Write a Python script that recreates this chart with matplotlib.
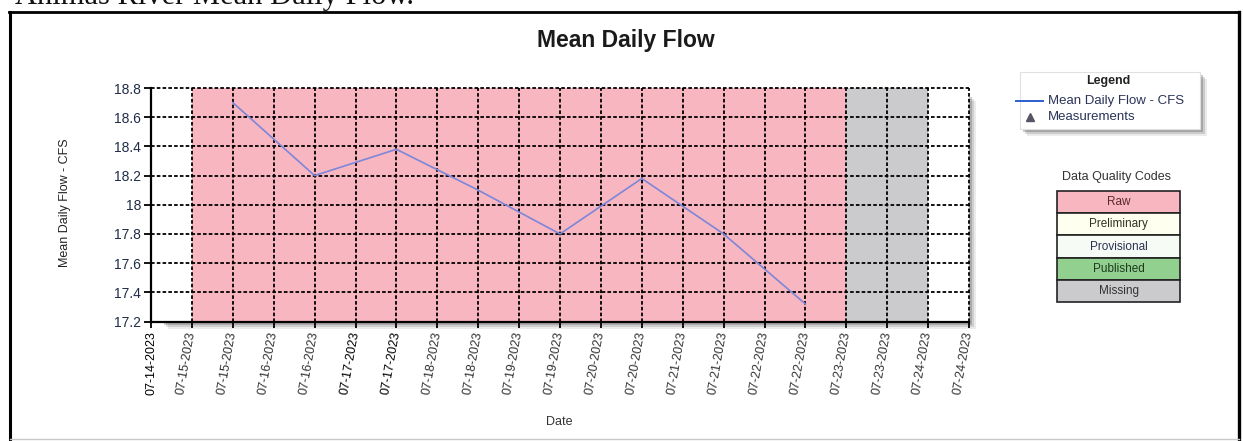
import matplotlib
matplotlib.use('Agg')
import matplotlib.pyplot as plt
from matplotlib.lines import Line2D
from matplotlib.patches import Rectangle
import pandas as pd

# daily flow values (noon of each day)
flow_dates = ['2023-07-15 12:00', '2023-07-16 12:00', '2023-07-17 12:00', '2023-07-18 12:00',
              '2023-07-19 12:00', '2023-07-20 12:00', '2023-07-21 12:00', '2023-07-22 12:00']
flow_cfs = [18.7, 18.2, 18.38, 18.1, 17.8, 18.18, 17.8, 17.32]

# data quality periods
band_starts = ['2023-07-15 00:00', '2023-07-23 00:00']
band_ends = ['2023-07-23 00:00', '2023-07-24 00:00']
band_codes = ['Raw', 'Missing']

quality_codes = ['Raw', 'Preliminary', 'Provisional', 'Published', 'Missing']
quality_colors = ['#f8b6c0', '#fffff0', '#f6fbf6', '#92d08f', '#cbcbcd']
quality_text = ['#5a2a2a', '#333322', '#2a3050', '#1f3a1f', '#333333']

y_ticks = [17.2, 17.4, 17.6, 17.8, 18.0, 18.2, 18.4, 18.6, 18.8]
x_start, x_end = '2023-07-14 12:00', '2023-07-24 12:00'

plt.rcParams['font.family'] = ['Liberation Sans', 'DejaVu Sans']

W, H = 1243, 441
fig = plt.figure(figsize=(W / 100, H / 100), dpi=100)
fig.patch.set_facecolor('white')

def fx(px):
    return px / W

def fy(py):
    return 1 - py / H

# page heading, cut off at top
fig.text(fx(15), fy(4), 'Animas River Mean Daily Flow.', family='Liberation Serif',
         fontsize=22, va='baseline', ha='left', color='#111111')

# outer frame
for xs, ys, c, lw in [([10, 10], [12, 441], 'black', 2.2),
                      ([9, 1239], [12, 12], 'black', 2.0),
                      ([1239, 1239], [12, 441], 'black', 2.4),
                      ([10, 1239], [439, 439], '#c8c8c8', 1.0)]:
    fig.add_artist(Line2D([fx(v) for v in xs], [fy(v) for v in ys], color=c, lw=lw,
                          transform=fig.transFigure))

ax_l, ax_r, ax_t, ax_b = 151, 969, 88, 321.5
ax = fig.add_axes([fx(ax_l), fy(ax_b), fx(ax_r - ax_l), (ax_b - ax_t) / H])

# soft drop shadow behind the plot area
for off, a in [(7, 0.10), (5, 0.16), (3, 0.26)]:
    fig.add_artist(Rectangle((fx(ax_l + off + 10), fy(ax_b + off)), fx(ax_r - ax_l - 10),
                             (ax_b - ax_t - 6) / H, transform=fig.transFigure,
                             facecolor='#404040', alpha=a, edgecolor='none', zorder=-1))

x = pd.to_datetime(flow_dates)
xs0, xs1 = pd.Timestamp(x_start), pd.Timestamp(x_end)

code_color = dict(zip(quality_codes, quality_colors))
for s, e, c in zip(band_starts, band_ends, band_codes):
    ax.axvspan(pd.Timestamp(s), pd.Timestamp(e), color=code_color[c], lw=0, zorder=0)

ax.plot(x, flow_cfs, color='#7d86d8', lw=1.2, zorder=3)

ax.set_xlim(xs0, xs1)
ax.set_ylim(17.2, 18.8)
x_ticks = pd.date_range(xs0, xs1, freq='12h')
ax.set_xticks(x_ticks)
ax.set_yticks(y_ticks)

# dotted grid, including the top and right edges
dots = (0, (2.0, 1.2))
for t in x_ticks[1:]:
    ax.axvline(t, color='black', lw=1.3, ls=dots, zorder=2, clip_on=False)
for v in y_ticks[1:]:
    ax.axhline(v, color='black', lw=1.3, ls=dots, zorder=2, clip_on=False)

for s in ['top', 'right']:
    ax.spines[s].set_visible(False)
for s in ['left', 'bottom']:
    ax.spines[s].set_linewidth(1.6)
    ax.spines[s].set_zorder(4)

ax.set_yticklabels(['18' if v == 18.0 else f'{v:.1f}' for v in y_ticks],
                   fontsize=10, color='#1f2c48')
ax.tick_params(axis='y', length=5, width=1.3, pad=2)
ax.tick_params(axis='x', length=4, width=1.3, pad=3)

ax.set_xticklabels([t.strftime('%m-%d-%Y') for t in x_ticks], fontsize=9, color='#333333')
for i, lab in enumerate(ax.get_xticklabels()):
    lab.set_rotation(90 if i == 0 else 80)
    lab.set_rotation_mode('anchor')
    lab.set_ha('right')
    lab.set_va('center')
    if i in (0, 5, 6):
        lab.set_color('black')

fig.text(fx(65), fy(203), 'Mean Daily Flow - CFS', rotation=90, fontsize=9,
         ha='center', va='center', color='#222222')
fig.text(fx(559), fy(422), 'Date', fontsize=9, ha='center', va='center', color='#333333')

fig.text(fx(626), fy(47), 'Mean Daily Flow', fontsize=16.5, fontweight='bold',
         ha='center', va='baseline', color='#1a1a1a')

# series legend box
lg_l, lg_r, lg_t, lg_b = 1020, 1200, 72, 129
for off, a in [(7, 0.10), (5, 0.18), (3, 0.28)]:
    fig.add_artist(Rectangle((fx(lg_l + off), fy(lg_b + off)), fx(lg_r - lg_l), (lg_b - lg_t) / H,
                             transform=fig.transFigure, facecolor='#404040', alpha=a,
                             edgecolor='none', zorder=1))
fig.add_artist(Rectangle((fx(lg_l), fy(lg_b)), fx(lg_r - lg_l), (lg_b - lg_t) / H,
                         transform=fig.transFigure, facecolor='white', edgecolor='#e0e0e0',
                         lw=0.8, zorder=2))
fig.text(fx(1108), fy(81), 'Legend', fontsize=9, fontweight='bold', ha='center', va='center',
         color='#222222', zorder=3)
fig.add_artist(Line2D([fx(1016), fx(1043)], [fy(101), fy(101)], color='#2a5fd0', lw=1.4,
                      transform=fig.transFigure, zorder=3))
fig.text(fx(1048), fy(101), 'Mean Daily Flow - CFS', fontsize=9.5, ha='left', va='center',
         color='#2a3358', zorder=3)
fig.add_artist(Line2D([fx(1030)], [fy(117)], marker='^', ms=6, color='#555566', lw=0,
                      transform=fig.transFigure, zorder=3))
fig.text(fx(1048), fy(117), 'Measurements', fontsize=9.5, ha='left', va='center',
         color='#2a3358', zorder=3)

# data quality code key
fig.text(fx(1117), fy(177), 'Data Quality Codes', fontsize=9, ha='center', va='center',
         color='#333333')
tb_l, tb_r, tb_t, row_h = 1057, 1180, 191, 22.2
for i, (code, col, tc) in enumerate(zip(quality_codes, quality_colors, quality_text)):
    top = tb_t + i * row_h
    fig.add_artist(Rectangle((fx(tb_l), fy(top + row_h)), fx(tb_r - tb_l), row_h / H,
                             transform=fig.transFigure, facecolor=col, edgecolor='#222222',
                             lw=1.2))
    fig.text(fx((tb_l + tb_r) / 2), fy(top + row_h / 2), code, fontsize=8.5, ha='center',
             va='center', color=tc)

fig.savefig('out.png', dpi=100, facecolor='white')
plt.close(fig)
